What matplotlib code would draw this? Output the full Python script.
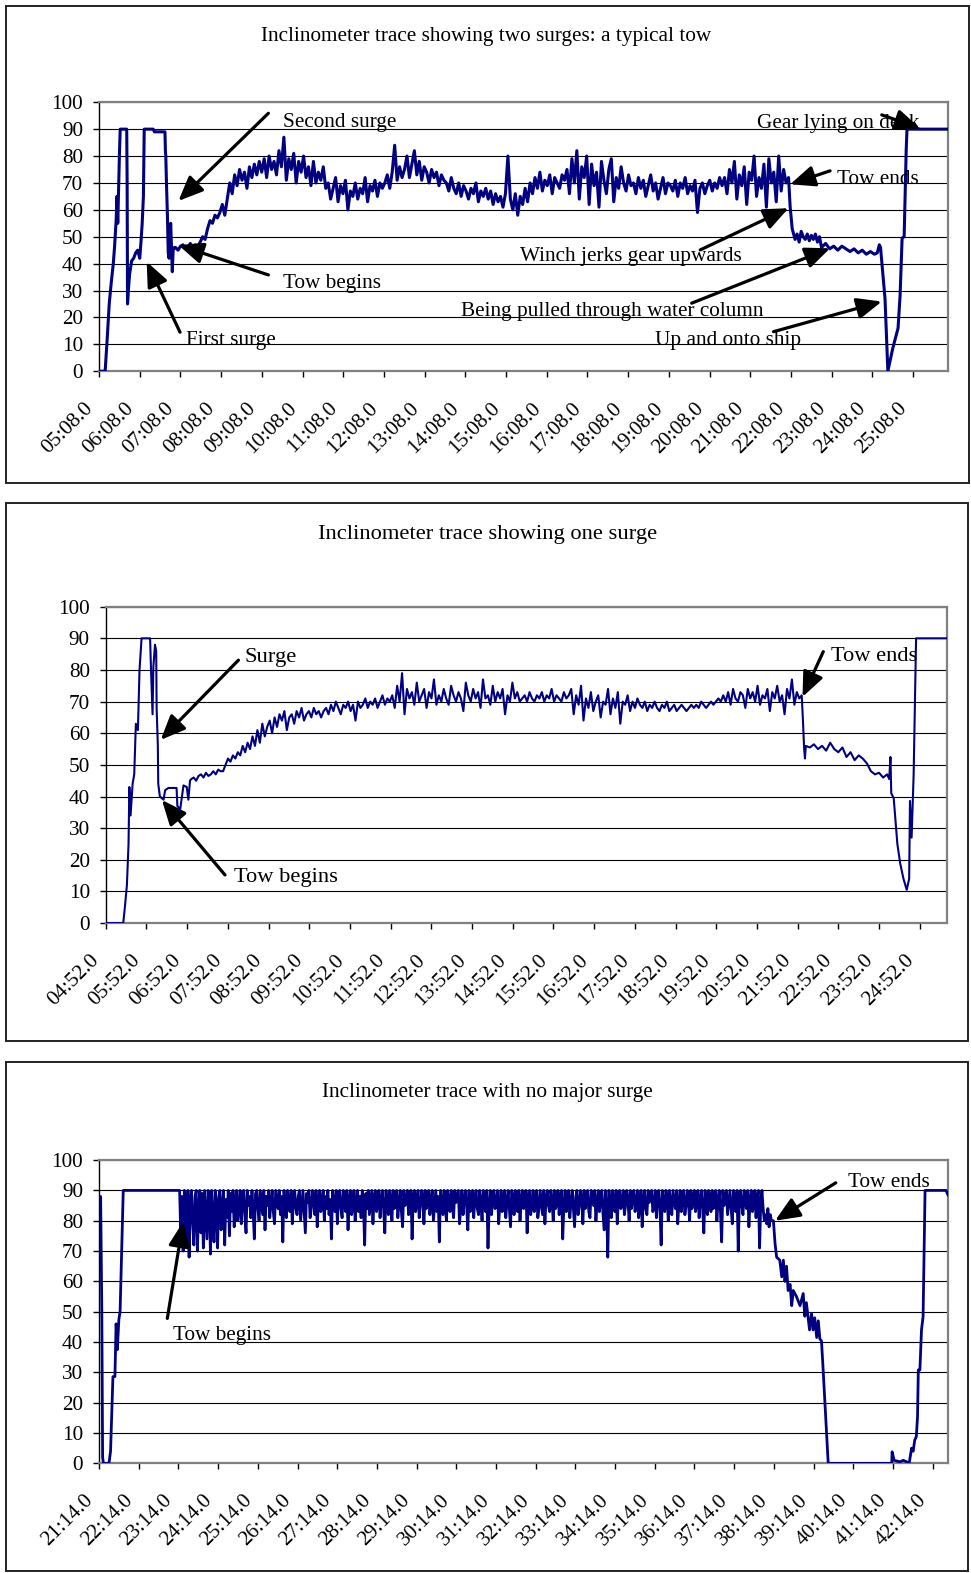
import matplotlib.pyplot as plt
from matplotlib.patches import Rectangle
from matplotlib.transforms import ScaledTranslation
import numpy as np

plt.rcParams['font.family'] = ['Liberation Serif', 'DejaVu Serif']

TRACE = '#000080'
FS = 15.3

# ---------------- chart 1: two surges, a typical tow ----------------
p1_title = "Inclinometer trace showing two surges: a typical tow"
p1_ticks = ['05:08.0', '06:08.0', '07:08.0', '08:08.0', '09:08.0', '10:08.0', '11:08.0',
            '12:08.0', '13:08.0', '14:08.0', '15:08.0', '16:08.0', '17:08.0', '18:08.0',
            '19:08.0', '20:08.0', '21:08.0', '22:08.0', '23:08.0', '24:08.0', '25:08.0']
p1_launch_t = [0, 0.15, 0.2, 0.25, 0.3, 0.35, 0.38, 0.42, 0.44, 0.46, 0.5, 0.52, 0.68, 0.69,
               0.7, 0.72, 0.75, 0.8, 0.85, 0.9, 0.95, 1.0, 1.03, 1.06, 1.09, 1.11, 1.33, 1.36,
               1.62, 1.63, 1.64, 1.66, 1.68, 1.7, 1.72, 1.74, 1.76, 1.78, 1.8, 1.82, 1.85]
p1_launch_v = [0, 0, 12, 25, 33, 40, 46, 56, 65, 55, 80, 90, 90, 70,
               25, 30, 36, 41, 42, 44, 45, 42, 48, 55, 65, 90, 90, 89,
               89, 82, 80, 68, 58, 44, 42, 50, 55, 46, 37, 45, 46]
p1_tow_span = (1.88, 16.94)
p1_tow_v = [46, 45, 46.5, 47, 45.5, 46, 47.5, 46, 47, 46.5,
            48, 50, 49, 53, 56, 55, 58, 57, 59, 62, 58, 64,
            70, 66, 73, 69, 75, 71, 74, 68, 76, 72, 77, 73, 78,
            74, 79, 72, 80, 75, 78, 73, 82, 76, 87, 71, 79, 75, 81, 70, 78, 74,
            80, 72, 76, 69, 78, 70, 74, 71, 76, 68,
            70, 64, 68, 72, 63, 69, 66, 71, 60, 67, 65, 70, 64, 68, 66, 72, 63, 69, 67, 71, 65, 70, 68,
            70, 73, 68, 74, 84, 71, 76, 72,
            75, 80, 72, 77, 82, 73, 78, 71, 76, 74, 70, 75, 72, 74, 69, 73, 71,
            70, 67, 72, 68, 66, 70, 65, 69, 67, 64, 68, 66, 70, 63, 67, 65, 68,
            64, 67, 62, 66, 63, 65, 61, 66, 80, 64, 60, 66, 58, 65, 62, 68, 63,
            70, 66, 72, 68, 74, 67, 71, 69, 73, 66, 72, 70, 68, 73, 71,
            75, 66, 79, 70, 82, 64, 76, 72, 80, 62, 77, 69, 74, 61, 78, 71, 66, 75, 79, 63,
            72, 68, 76, 70, 67, 73, 69,
            70, 66, 72, 68, 71, 65, 69, 73, 67, 70, 64, 68, 72, 66, 70, 69, 67, 71, 65, 70,
            68, 72, 66, 69, 67, 71, 59, 68, 70, 66, 69, 71, 67, 70, 68, 72, 69,
            72, 66, 75, 70, 78, 64, 73, 69, 76, 62, 74, 71, 80, 65, 72, 68, 77, 61, 79, 70,
            74, 63, 80, 67, 75, 70, 72]
p1_haul_t = [16.98, 17.03, 17.1, 17.15, 17.2, 17.25, 17.3, 17.35, 17.4, 17.45,
             17.5, 17.55, 17.6, 17.65, 17.7, 17.75, 17.85, 17.95, 18.05, 18.15,
             18.25, 18.35, 18.45, 18.55, 18.65, 18.75, 18.85, 18.95, 19.05, 19.12,
             19.17, 19.2, 19.31, 19.38, 19.5, 19.63, 19.68, 19.73, 19.78, 19.83,
             19.85, 20.85]
p1_haul_v = [61, 53, 49, 51, 48, 52, 50, 49, 51, 48.5,
             50.5, 49, 51, 48, 50, 46, 47.5, 45.5, 46.5, 45,
             46.5, 45.5, 44.5, 45.5, 44, 45, 43.5, 44.5, 43.5, 44,
             47, 46, 27, 0, 8.5, 16, 28, 49.5, 50, 82,
             90, 90]
# (label, text position, arrow tail, arrow tip)
p1_notes = [("Second surge", (4.51, 92.6), (4.16, 95.9), (1.95, 63.3)),
            ("Tow begins", (4.53, 32.7), (4.16, 35.8), (1.95, 46.9)),
            ("First surge", (2.14, 11.6), (1.99, 14.5), (1.17, 40.7)),
            ("Gear lying on deck", (16.16, 92.1), (19.23, 95.3), (20.17, 90.3)),
            ("Tow ends", (18.12, 71.4), (17.96, 74.5), (16.98, 69.5)),
            ("Winch jerks gear upwards", (10.35, 42.6), (14.77, 45.1), (16.94, 60.6)),
            ("Being pulled through water column", (8.89, 22.1), (14.56, 25.3), (17.96, 45.7)),
            ("Up and onto ship", (13.66, 11.6), (16.57, 14.7), (19.23, 25.9))]

# ---------------- chart 2: one surge ----------------
p2_title = "Inclinometer trace showing one surge"
p2_ticks = ['04:52.0', '05:52.0', '06:52.0', '07:52.0', '08:52.0', '09:52.0', '10:52.0',
            '11:52.0', '12:52.0', '13:52.0', '14:52.0', '15:52.0', '16:52.0', '17:52.0',
            '18:52.0', '19:52.0', '20:52.0', '21:52.0', '22:52.0', '23:52.0', '24:52.0']
p2_launch_t = [0, 0.43, 0.47, 0.52, 0.56, 0.58, 0.61, 0.66, 0.70, 0.74,
               0.79, 0.83, 0.88, 1.09, 1.11, 1.15, 1.17, 1.21, 1.24, 1.25,
               1.28, 1.29, 1.33, 1.42, 1.46, 1.54, 1.74, 1.76, 1.83, 1.91,
               1.99, 2.03, 2.07]
p2_launch_v = [0, 0, 5, 12, 25, 43, 34, 44, 47, 63,
               61, 80, 90, 90, 81, 66, 81, 88, 86, 68,
               56, 44, 40, 39, 42, 42.7, 42.7, 37, 36, 43.5,
               43, 39, 45]
p2_tow_span = (2.1, 17.1)
p2_tow_v = [45.5, 46, 45, 46.5, 47, 46, 47.5, 46.5, 47, 48, 47, 48.5, 48,
            48, 50, 52, 51, 53, 52, 54,
            53, 56, 54, 57, 55, 59, 56, 61, 57, 63, 59, 62,
            64, 60, 65, 62, 66, 64, 67, 61, 65, 66, 63, 67, 65, 68, 64, 66, 67, 65, 68, 66, 67, 65,
            67, 68, 66, 69, 67, 70, 68, 66, 69, 68, 70, 67, 69, 64, 70, 68, 69, 71, 68, 70,
            69, 71, 68, 70, 72, 69, 71, 70,
            72, 68, 75, 70, 79, 66, 74, 71, 73, 69, 76, 70, 72, 74, 68, 73, 71, 77, 69, 72,
            70, 74, 71, 69, 75, 72, 70, 73, 71, 67, 76, 72, 70, 74, 71, 73, 68, 77, 71, 72,
            69, 75, 70, 73, 71, 74, 66, 72, 70, 76, 71, 73, 70,
            71, 72, 70, 73, 71, 70, 72, 71, 73, 70, 72, 71, 74, 70, 72, 71, 70, 73, 71, 72,
            74, 66, 72, 69, 75, 64, 71, 68, 73, 67, 70, 72, 65, 70, 69, 74, 66, 71, 68, 73,
            63, 70, 69, 72, 67, 70, 68, 71,
            69, 68, 70, 67, 69, 68, 70, 68, 67, 69, 68, 70, 67, 68, 69, 67, 68, 69, 68, 67,
            68, 69, 68, 69, 68, 70, 69, 68, 69, 70, 69, 70, 71, 70,
            72, 70, 73, 69, 74, 71, 70, 73, 72, 68, 74, 71, 73, 70, 75, 69, 72, 71, 74, 67,
            73, 71, 75, 70, 72, 66, 74, 71, 77, 69, 73, 71, 72]
p2_haul_t = [17.13, 17.16, 17.18, 17.2, 17.3, 17.4, 17.5, 17.6, 17.7, 17.8,
             17.9, 18.0, 18.1, 18.2, 18.3, 18.4, 18.5, 18.6, 18.7, 18.8,
             18.9, 19.0, 19.1, 19.2, 19.25, 19.28, 19.3, 19.36, 19.45, 19.52,
             19.6, 19.68, 19.74, 19.76, 19.8, 19.85, 19.91, 20.67]
p2_haul_v = [64, 55, 52, 56, 55.5, 56.5, 55, 56, 54.5, 57,
             55, 54, 55.5, 52.5, 54, 51.5, 53, 52, 50.5, 48,
             47, 47.5, 46, 47, 45.5, 52.5, 41, 39.5, 25, 18.8,
             14, 10.5, 14, 38.6, 27, 47, 90, 90]
p2_notes = [("Surge", (3.40, 83.9), (3.26, 83.1), (1.35, 57.9)),
            ("Tow begins", (3.15, 14.3), (2.93, 15.2), (1.38, 38.9)),
            ("Tow ends", (17.81, 84.2), (17.63, 85.8), (17.12, 71.5))]

# ---------------- chart 3: no major surge ----------------
p3_title = "Inclinometer trace with no major surge"
p3_ticks = ['21:14.0', '22:14.0', '23:14.0', '24:14.0', '25:14.0', '26:14.0', '27:14.0',
            '28:14.0', '29:14.0', '30:14.0', '31:14.0', '32:14.0', '33:14.0', '34:14.0',
            '35:14.0', '36:14.0', '37:14.0', '38:14.0', '39:14.0', '40:14.0', '41:14.0',
            '42:14.0']
p3_launch_t = [0, 0.04, 0.07, 0.09, 0.11, 0.25, 0.29, 0.35, 0.40, 0.43, 0.46, 0.50, 0.53,
               0.57, 0.61, 2.0]
p3_launch_v = [88, 88, 50, 2, 0, 0, 4, 28.6, 28.6, 46, 37.5, 47.5, 50, 70, 90, 90]
p3_tow_span = (2.03, 16.94)
p3_tow_v = [90, 75, 88, 70, 90, 84, 73, 90, 68, 86, 90, 79, 72, 88, 90, 70, 84, 90, 76, 89, 71, 90, 82, 74, 90,
            86, 69, 90, 80, 73, 90, 85, 71, 88, 90, 77, 84, 90, 72, 87, 81, 90, 75, 89, 83, 90, 78, 86, 90, 80,
            84, 90, 79, 87, 90, 82, 76, 90, 85, 88, 81, 90, 83, 74, 89, 90, 84, 80, 90, 86, 82, 90, 77, 88, 85,
            90, 81, 86, 90, 83, 79, 90, 87, 84, 90, 82, 88, 73, 90, 85, 81, 90, 86, 83, 90, 79, 87, 90, 84, 82,
            88, 90, 80, 85, 90, 83, 76, 89, 86, 90, 81, 84, 90, 87, 82, 90, 78, 86, 90, 83, 85, 90, 80, 88, 84,
            90, 82, 87, 74, 90, 85, 83, 90, 79, 88, 90, 84, 81, 90, 86, 83, 90, 77, 87, 90, 82, 85, 90, 80, 86,
            90, 83, 88, 81, 90, 85, 72, 89, 84, 90, 82, 86, 90, 79, 88, 90, 83, 85, 90, 81, 87, 90, 84, 76, 90,
            85, 82, 90, 87, 80, 90, 84, 88, 90, 81, 86, 90, 83, 78, 90, 85, 87, 90, 82, 84, 90, 74, 88, 90, 83,
            86, 90, 81, 85, 90, 88, 79, 90, 84, 86, 90, 82, 87, 90, 80, 85, 90, 83, 88, 73, 90, 86, 82, 90, 84,
            80, 90, 87, 83, 90, 85, 81, 90, 86, 88, 90, 79, 84, 90, 82, 87, 90, 85, 77, 90, 83, 86, 90, 81, 88,
            90, 84, 82, 90, 86, 80, 90, 87, 83, 90, 71, 85, 90, 82, 88, 90, 84, 86, 90, 79, 85, 90, 83, 87, 90,
            81, 86, 90, 84, 78, 90, 88, 82, 90, 85, 83, 90, 80, 87, 90, 84, 86, 90, 76, 88, 90, 82, 85, 90, 83,
            87, 90, 81, 84, 90, 86, 82, 90, 79, 88, 90, 85, 83, 90, 87, 80, 90, 84, 86, 90, 82, 88, 90, 74, 85,
            90, 83, 87, 90, 81, 86, 90, 84, 78, 88, 90, 82, 85, 90, 87, 79, 90, 84, 86, 90, 83, 81, 90, 88, 85,
            90, 80, 86, 90, 83, 88, 90, 82, 77, 90, 85, 68, 90, 84, 81, 90, 86, 83, 90, 79, 88, 90, 84, 86, 90,
            82, 85, 90, 87, 80, 90, 84, 88, 90, 83, 86, 90, 81, 85, 90, 78, 87, 90, 84, 82, 90, 86, 88, 90, 83,
            85, 90, 81, 87, 90, 84, 72, 90, 86, 83, 90, 88, 80, 90, 85, 82, 90, 87, 84, 90, 79, 86, 90, 83, 88,
            90, 82, 85, 90, 86, 80, 90, 84, 88, 90, 83, 86, 90, 81, 87, 90, 84, 76, 90, 85, 82, 90, 88, 83, 90,
            84, 86, 90, 80, 87, 90, 83, 73, 90, 85, 88, 90, 82, 86, 90, 84, 79, 90, 87, 83, 90, 70, 88, 90, 85,
            82, 90, 86, 84, 90, 78, 87, 90, 83, 85, 90, 81, 88, 90, 71, 86, 90, 84, 80, 82, 79, 84, 78, 82, 80]
p3_haul_t = [16.99, 17.03, 17.07, 17.15, 17.2, 17.24, 17.28, 17.32, 17.36, 17.41,
             17.45, 17.49, 17.57, 17.66, 17.74, 17.78, 17.82, 17.9, 17.95, 17.99,
             18.03, 18.08, 18.12, 18.16, 18.2, 18.23, 18.37, 19.97, 19.98, 20.03,
             20.18, 20.26, 20.35, 20.41, 20.47, 20.51, 20.55, 20.59, 20.62, 20.64,
             20.68, 20.72, 20.76, 20.81, 21.34, 21.37, 21.39]
p3_haul_v = [80, 72.6, 68, 67, 61.5, 67, 60, 65, 57, 59,
             52, 57, 55, 52, 56, 48.5, 53, 44, 49.5, 44,
             48, 41.5, 47, 41, 40.4, 33.8, 0, 0, 3.8, 1,
             0.5, 1, 0.5, 0, 5, 4, 7.7, 8.8, 15.4, 30.8,
             30.8, 44, 48.4, 90, 90, 89, 88.5]
p3_notes = [("Tow begins", (1.87, 42.3), (1.72, 47.8), (2.12, 79.7)),
            ("Tow ends", (18.87, 92.6), (18.56, 92.5), (17.03, 80.0))]


def join_trace(launch_t, launch_v, span, tow_v, haul_t, haul_v):
    tow_t = np.linspace(span[0], span[1], len(tow_v))
    t = np.concatenate([launch_t, tow_t, haul_t])
    v = np.concatenate([launch_v, tow_v, haul_v])
    return t, v


def draw_panel(fig, ax, t, v, ticks, xmax, notes, lw, note_fs):
    ax.plot(t, v, color=TRACE, lw=lw, zorder=3)
    ax.set_xlim(0, xmax)
    ax.set_ylim(0, 100)
    ax.set_yticks(range(0, 101, 10))
    ax.set_xticks(range(len(ticks)))
    ax.set_xticklabels(ticks, rotation=45, ha='right', va='center', rotation_mode='anchor')
    ax.tick_params(axis='x', length=4.5, width=1, pad=18, labelsize=FS, colors='black')
    ax.tick_params(axis='y', length=4.5, width=1, pad=7, labelsize=FS)
    # nudge the slanted labels a little left/down like the original
    shift = ScaledTranslation(-9 / 100, -3 / 100, fig.dpi_scale_trans)
    for lab in ax.get_xticklabels():
        lab.set_transform(lab.get_transform() + shift)
    ax.grid(axis='y', color='black', lw=0.8)
    for side in ['top', 'right', 'bottom']:
        ax.spines[side].set_color('#808080')
        ax.spines[side].set_linewidth(1.6)
    ax.spines['left'].set_color('black')
    ax.spines['left'].set_linewidth(1.0)
    for label, txt, tail, tip in notes:
        ax.text(txt[0], txt[1], label, fontsize=note_fs, ha='left', va='center', zorder=4)
        ax.annotate('', xy=tip, xytext=tail, annotation_clip=False, zorder=5,
                    arrowprops=dict(arrowstyle='-|>,head_length=0.75,head_width=0.32',
                                    lw=2.3, color='black', shrinkA=0, shrinkB=0,
                                    mutation_scale=20))


fig = plt.figure(figsize=(9.71, 15.73), dpi=100)

# outer chart frames
for box in [(0.0062, 0.6929, 0.9918, 0.3032), (0.0062, 0.3382, 0.9907, 0.3420),
            (0.0062, 0.0013, 0.9907, 0.3236)]:
    fig.add_artist(Rectangle(box[:2], box[2], box[3], transform=fig.transFigure,
                             fill=False, edgecolor='#222222', lw=1.4))

ax1 = fig.add_axes([0.1020, 0.7640, 0.8740, 0.1710])
ax2 = fig.add_axes([0.1089, 0.4132, 0.8664, 0.2011])
ax3 = fig.add_axes([0.1020, 0.0697, 0.8744, 0.1928])

t1, v1 = join_trace(p1_launch_t, p1_launch_v, p1_tow_span, p1_tow_v, p1_haul_t, p1_haul_v)
t2, v2 = join_trace(p2_launch_t, p2_launch_v, p2_tow_span, p2_tow_v, p2_haul_t, p2_haul_v)
t3, v3 = join_trace(p3_launch_t, p3_launch_v, p3_tow_span, p3_tow_v, p3_haul_t, p3_haul_v)

draw_panel(fig, ax1, t1, v1, p1_ticks, 20.85, p1_notes, 2.2, FS)
draw_panel(fig, ax2, t2, v2, p2_ticks, 20.67, p2_notes, 1.5, 16.2)
draw_panel(fig, ax3, t3, v3, p3_ticks, 21.39, p3_notes, 2.0, FS)

fig.text(0.501, 0.9766, p1_title, ha='center', va='center', fontsize=FS)
fig.text(0.502, 0.6602, p2_title, ha='center', va='center', fontsize=16.2)
fig.text(0.502, 0.3053, p3_title, ha='center', va='center', fontsize=FS)

fig.savefig('out.png', dpi=100)
